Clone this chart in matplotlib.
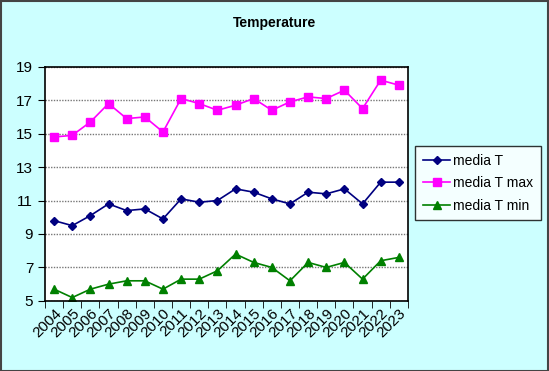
import matplotlib
matplotlib.use("Agg")
import matplotlib.pyplot as plt
from matplotlib.patches import Rectangle
import numpy as np

years = [str(y) for y in range(2004, 2024)]
media_t = [9.8, 9.5, 10.1, 10.8, 10.4, 10.5, 9.9, 11.1, 10.9, 11.0,
           11.7, 11.5, 11.1, 10.8, 11.5, 11.4, 11.7, 10.8, 12.1, 12.1]
media_t_max = [14.8, 14.9, 15.7, 16.8, 15.9, 16.0, 15.1, 17.1, 16.8, 16.4,
               16.7, 17.1, 16.4, 16.9, 17.2, 17.1, 17.6, 16.5, 18.2, 17.9]
media_t_min = [5.7, 5.2, 5.7, 6.0, 6.2, 6.2, 5.7, 6.3, 6.3, 6.8,
               7.8, 7.3, 7.0, 6.2, 7.3, 7.0, 7.3, 6.3, 7.4, 7.6]
yticks = [5, 7, 9, 11, 13, 15, 17, 19]

plt.rcParams['font.family'] = ['Liberation Sans', 'DejaVu Sans']

fig = plt.figure(figsize=(5.49, 3.71), dpi=100, facecolor='#CCFFFF')
fig.patches.append(Rectangle((0.001, 0.001), 0.997, 0.996, transform=fig.transFigure,
                             fill=False, edgecolor='#444444', linewidth=1.5))
ax = fig.add_axes([0.082, 0.189, 0.661, 0.631])
ax.set_facecolor('white')

x = np.arange(len(years))
ax.plot(x, media_t, color='#000080', marker='D', markersize=4.5, linewidth=1.2, label='media T')
ax.plot(x, media_t_max, color='#FF00FF', marker='s', markersize=6, linewidth=1.2, label='media T max')
ax.plot(x, media_t_min, color='#008000', marker='^', markersize=6, linewidth=1.2, label='media T min')

ax.set_xlim(-0.5, len(years) - 0.5)
ax.set_ylim(5, 19)
ax.set_yticks(yticks)
ax.set_yticklabels([str(v) for v in yticks], fontsize=11)
ax.yaxis.grid(True, color='#777777', linestyle=(0, (1, 1)), linewidth=1)
ax.set_axisbelow(True)

ax.set_xticks(x)
ax.set_xticklabels(years, rotation=45, ha='right', va='top', rotation_mode='anchor', fontsize=11)
ax.tick_params(axis='x', which='major', length=0, pad=4)
ax.set_xticks(np.arange(-0.5, len(years), 1), minor=True)
ax.tick_params(axis='x', which='minor', length=5, direction='out', color='black')
ax.tick_params(axis='y', length=5, direction='out', color='black')

for s in ax.spines.values():
    s.set_color('black')
    s.set_linewidth(1.2)

fig.text(0.5, 0.937, 'Temperature', ha='center', va='center', fontsize=10, fontweight='bold')

leg = ax.legend(loc='center left', bbox_to_anchor=(0.756, 0.506), bbox_transform=fig.transFigure,
                frameon=True, fancybox=False, edgecolor='black', fontsize=10,
                handlelength=2.0, handletextpad=0.2, borderpad=0.55, labelspacing=0.6,
                borderaxespad=0)
leg.get_frame().set_linewidth(1)

fig.savefig('out.png', dpi=100, facecolor=fig.get_facecolor())
